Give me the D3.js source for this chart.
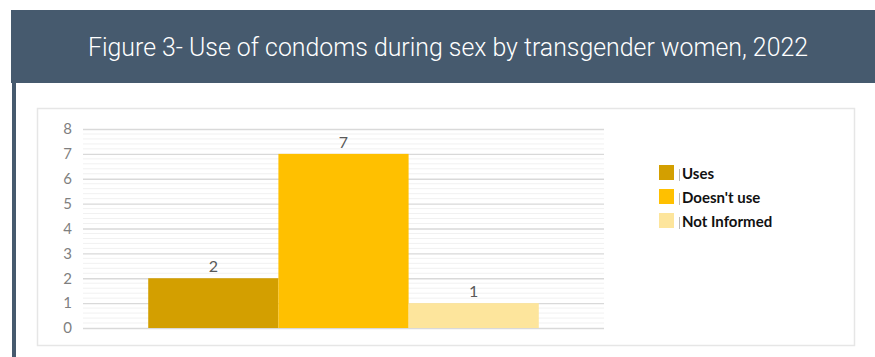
<!DOCTYPE html>
<html><head><meta charset="utf-8">
<script src="https://cdn.jsdelivr.net/npm/d3@7"></script>
<style>html,body{margin:0;padding:0;background:#fff;}svg{display:block;}</style>
</head><body>
<svg id="c" width="875" height="357"></svg>
<script>
const title = "Figure 3- Use of condoms during sex by transgender women, 2022";
const categories = ["2022"];
const seriesNames = ["Uses", "Doesn't use", "Not Informed"];
const seriesValues = [2, 7, 1];
const seriesColors = ["#d39f00", "#ffc000", "#fde59c"];
const yTicks = [0, 1, 2, 3, 4, 5, 6, 7, 8];

const svg = d3.select("#c");
// header
svg.append("rect").attr("x", 11).attr("y", 10).attr("width", 864).attr("height", 73).attr("fill", "#465a6e");
svg.append("rect").attr("x", 12).attr("y", 83).attr("width", 4).attr("height", 274).attr("fill", "#465a6e");
svg.append("text").attr("x", 448).attr("y", 56).attr("text-anchor", "middle")
  .attr("fill", "#fff").attr("font-family", "Roboto, sans-serif").attr("font-weight", 300).attr("font-size", 25)
  .attr("textLength", 720).attr("lengthAdjust", "spacingAndGlyphs").text(title);

// chart box
svg.append("rect").attr("x", 37.5).attr("y", 108.5).attr("width", 817).attr("height", 237)
  .attr("fill", "#fff").attr("stroke", "#e6e6e6").attr("stroke-width", 1.5);

const plot = {x0: 83, x1: 604, y0: 129, y1: 328};
const y = d3.scaleLinear().domain([0, 8]).range([plot.y1, plot.y0]);
const x0 = d3.scaleBand().domain(categories).range([plot.x0, plot.x1]).paddingInner(0).paddingOuter(0.167);
const x1 = d3.scaleBand().domain(seriesNames).range([0, x0.bandwidth()]).padding(0);

// minor gridlines
const minor = d3.range(0, 8.0001, 0.2).filter(v => Math.abs(v - Math.round(v)) > 1e-6);
svg.append("g").selectAll("line").data(minor).join("line")
  .attr("x1", plot.x0).attr("x2", plot.x1)
  .attr("y1", d => y(d)).attr("y2", d => y(d))
  .attr("stroke", "#f1f1f1").attr("stroke-width", 1);

// major gridlines via axis
const yAxis = d3.axisLeft(y).tickValues(yTicks).tickSize(-(plot.x1 - plot.x0)).tickPadding(11).tickFormat(d3.format("d"));
const ga = svg.append("g").attr("transform", `translate(${plot.x0},0)`).call(yAxis);
ga.select(".domain").remove();
ga.selectAll(".tick line").attr("stroke", "#d9d9d9").attr("stroke-width", 1.4);
ga.selectAll(".tick text").attr("fill", "#7f7f7f").attr("font-family", "Lato, 'Open Sans', sans-serif").attr("font-size", 15);

// bars
const data = seriesNames.map((s, i) => ({cat: categories[0], name: s, value: seriesValues[i], color: seriesColors[i]}));
const gb = svg.append("g");
gb.selectAll("rect").data(data).join("rect")
  .attr("x", d => x0(d.cat) + x1(d.name))
  .attr("width", x1.bandwidth())
  .attr("y", d => y(d.value))
  .attr("height", d => y(0) - y(d.value))
  .attr("fill", d => d.color);
gb.selectAll("text").data(data).join("text")
  .attr("x", d => x0(d.cat) + x1(d.name) + x1.bandwidth() / 2)
  .attr("y", d => y(d.value) - 6)
  .attr("text-anchor", "middle").attr("fill", "#595959")
  .attr("font-family", "Lato, 'Open Sans', sans-serif").attr("font-size", 16)
  .text(d => d.value);

// legend
const lg = svg.append("g").attr("transform", "translate(659,165)");
const li = lg.selectAll("g").data(data).join("g").attr("transform", (d, i) => `translate(0,${i * 24})`);
li.append("rect").attr("width", 15).attr("height", 15).attr("fill", d => d.color);
li.append("line").attr("x1", 20.5).attr("x2", 20.5).attr("y1", 4).attr("y2", 16).attr("stroke", "#bbb").attr("stroke-width", 1);
li.append("text").attr("x", 23).attr("y", 14).attr("fill", "#111")
  .attr("font-family", "Lato, 'Open Sans', sans-serif").attr("font-weight", "bold").attr("font-size", 15)
  .text(d => d.name);
</script>
</body></html>
